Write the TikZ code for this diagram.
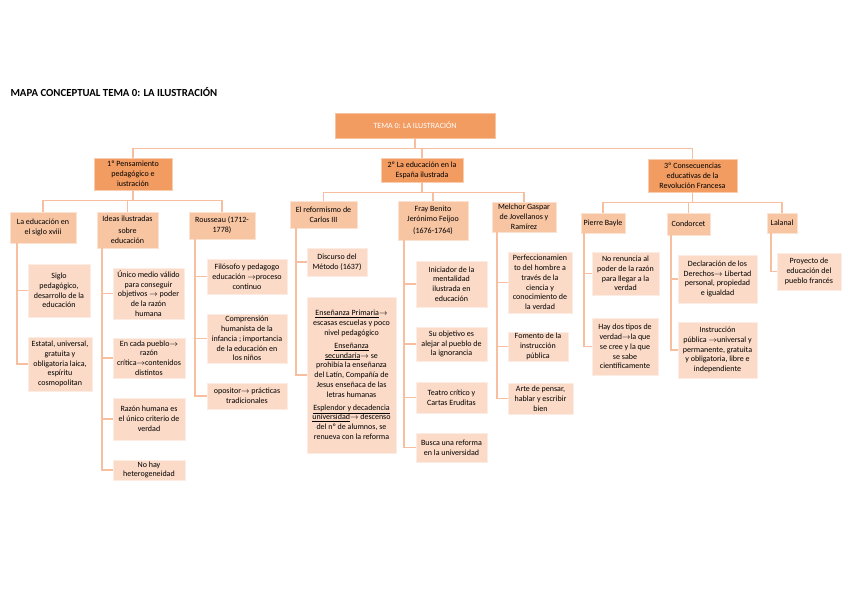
\documentclass[tikz,border=0pt]{standalone}
\usepackage{fontspec}
\setmainfont{Carlito}
\usepackage{tikz}
\usetikzlibrary{positioning,calc}

\definecolor{naranjaosc}{RGB}{242,156,98}
\definecolor{naranjamed}{RGB}{248,197,163}
\definecolor{naranjaclaro}{RGB}{251,218,199}
\definecolor{linea}{RGB}{247,190,160}
\newcommand{\flecha}{$\rightarrow$}

\begin{document}
\begin{tikzpicture}[
    x=1pt, y=-1pt,
    caja/.style={align=center, inner sep=0.5pt, font=\fontsize{8}{9.8}\selectfont},
    raiz/.style={caja, fill=naranjaosc, draw=naranjaosc!60!white, text=white},
    nivuno/.style={caja, fill=naranjaosc, draw=naranjaosc!50!white},
    nivdos/.style={caja, fill=naranjamed, draw=naranjamed!50!white},
    hoja/.style={caja, fill=naranjaclaro, draw=naranjaclaro!50!white},
    enlace/.style={draw=linea, line width=1.4pt}
  ]
    \path[fill=white, use as bounding box] (0,0) rectangle (848,599);

    \node[anchor=west, font=\fontsize{10.8}{12}\selectfont\bfseries] (titulo) at (7,92)
      {MAPA CONCEPTUAL TEMA 0: LA ILUSTRACIÓN};

    \node[raiz, minimum width=160, minimum height=25] (tema) at (415,125.5) {TEMA 0: LA ILUSTRACIÓN};

    \node[nivuno, minimum width=78, minimum height=32] (pens) at (133,174)
      {1º Pensamiento\\pedagógico e\\iustración};
    \node[nivuno, minimum width=82, minimum height=24] (espa) at (422,170)
      {2º La educación en la\\España ilustrada};
    \node[nivuno, minimum width=89, minimum height=33] (revo) at (692.5,175.5)
      {3º Consecuencias\\educativas de la\\Revolución Francesa};

    \node[nivdos, minimum width=66, minimum height=31] (siglo) at (43,227.5)
      {La educación en\\el siglo xviii};
    \node[nivdos, minimum width=61, minimum height=36] (ideas) at (127.5,230)
      {Ideas ilustradas\\[2pt]sobre\\educación};
    \node[nivdos, minimum width=66, minimum height=27] (rous) at (222,225.5)
      {Rousseau (1712-\\1778)};

    \node[nivdos, minimum width=67, minimum height=27] (carlos) at (323.5,214.5)
      {El reformismo de\\Carlos III};
    \node[nivdos, minimum width=70, minimum height=39] (feijoo) at (433,220.5)
      {Fray Benito\\Jerónimo Feijoo\\[2pt](1676-1764)};
    \node[nivdos, minimum width=64, minimum height=30] (jove) at (524,217)
      {Melchor Gaspar\\de Jovellanos y\\Ramírez};

    \node[nivdos, minimum width=44, minimum height=20] (bayle) at (603,223) {Pierre Bayle};
    \node[nivdos, minimum width=43, minimum height=22] (condo) at (688.5,224) {Condorcet};
    \node[nivdos, minimum width=30, minimum height=20] (lala) at (782,223) {Lalanal};

    \node[hoja, minimum width=62, minimum height=53] (sigpeda) at (59,290.5)
      {Siglo\\pedagógico,\\desarrollo de la\\educación};
    \node[hoja, minimum width=64, minimum height=54] (estatal) at (60,364)
      {Estatal, universal,\\gratuita y\\obligatoria laica,\\espíritu\\cosmopolitan};

    \node[hoja, minimum width=71, minimum height=51] (unico) at (148.5,293.5)
      {Único medio válido\\para conseguir\\objetivos \flecha{} poder\\de la razón\\humana};
    \node[hoja, minimum width=72, minimum height=40] (pueblo) at (149,358)
      {En cada pueblo\flecha\\razón\\crítica\flecha{}contenidos\\distintos};
    \node[hoja, minimum width=72, minimum height=42] (razon) at (149,419)
      {Razón humana es\\el único criterio de\\verdad};
    \node[hoja, minimum width=72, minimum height=20] (hetero) at (149,470)
      {No hay\\heterogeneidad};

    \node[hoja, minimum width=80, minimum height=35] (filo) at (247,276.5)
      {Filósofo y pedagogo\\educación \flecha{}proceso\\continuo};
    \node[hoja, minimum width=80, minimum height=49] (compr) at (247,338.5)
      {Comprensión\\humanista de la\\infancia ; importancia\\de la educación en\\los niños};
    \node[hoja, minimum width=80, minimum height=26] (oposi) at (247,396)
      {opositor\flecha{} prácticas\\tradicionales};

    \node[hoja, minimum width=60, minimum height=28] (discur) at (337,262)
      {Discurso del\\Método (1637)};
    \node[hoja, minimum width=89, minimum height=156] (ensen) at (351.5,375)
      {\underline{Enseñanza Primaria}\flecha\\escasas escuelas y poco\\nivel pedagógico\\[3pt]
       \underline{Enseñanza}\\\underline{secundaria}\flecha{} se\\prohibía la enseñanza\\del Latín, Compañía de\\Jesus enseñaca de las\\letras humanas\\[3pt]
       \underline{Esplendor y decadencia}\\\underline{universidad}\flecha{} descenso\\del nº de alumnos, se\\renueva con la reforma};

    \node[hoja, minimum width=71, minimum height=46] (inicia) at (451.5,284)
      {Iniciador de la\\mentalidad\\ilustrada en\\educación};
    \node[hoja, minimum width=71, minimum height=34] (objet) at (451.5,344)
      {Su objetivo es\\alejar al pueblo de\\la ignorancia};
    \node[hoja, minimum width=71, minimum height=31] (teatro) at (451.5,397.5)
      {Teatro crítico y\\Cartas Eruditas};
    \node[hoja, minimum width=71, minimum height=29] (busca) at (451.5,447.5)
      {Busca una reforma\\en la universidad};

    \node[hoja, minimum width=64, minimum height=61] (perfec) at (540,282.5)
      {Perfeccionamien\\to del hombre a\\través de la\\ciencia y\\conocimiento de\\la verdad};
    \node[hoja, minimum width=60, minimum height=29] (fomento) at (538,346.5)
      {Fomento de la\\instrucción\\pública};
    \node[hoja, minimum width=65, minimum height=31] (arte) at (540.5,398.5)
      {Arte de pensar,\\hablar y escribir\\bien};

    \node[hoja, minimum width=67, minimum height=43] (renun) at (625.5,273.5)
      {No renuncia al\\poder de la razón\\para llegar a la\\verdad};
    \node[hoja, minimum width=66, minimum height=57] (tipos) at (625,346.5)
      {Hay dos tipos de\\verdad\flecha{}la que\\se cree y la que\\se sabe\\científicamente};

    \node[hoja, minimum width=79, minimum height=48] (decla) at (717.5,279)
      {Declaración de los\\Derechos\flecha{} Libertad\\personal, propiedad\\e igualdad};
    \node[hoja, minimum width=79, minimum height=56] (instru) at (717.5,350)
      {Instrucción\\pública \flecha{}universal y\\permanente, gratuita\\y obligatoria, libre e\\independiente};

    \node[hoja, minimum width=64, minimum height=37] (proy) at (809,271.5)
      {Proyecto de\\educación del\\pueblo francés};

    \draw[enlace] (tema.south) -- ++(0,10) -| (pens.north);
    \draw[enlace] (tema.south) -- ++(0,10) -| (espa.north);
    \draw[enlace] (tema.south) -- ++(0,10) -| (revo.north);

    \draw[enlace] (pens.south) -- ++(0,10) -| (siglo.north);
    \draw[enlace] (pens.south) -- ++(0,10) -| (ideas.north);
    \draw[enlace] (pens.south) -- ++(0,10) -| (rous.north);

    \draw[enlace] (espa.south) -- ++(0,10) -| (carlos.north);
    \draw[enlace] (espa.south) -- ++(0,10) -| (feijoo.north);
    \draw[enlace] (espa.south) -- ++(0,10) -| (jove.north);

    \draw[enlace] (revo.south) -- ++(0,10) -| (bayle.north);
    \draw[enlace] (revo.south) -- ++(0,10) -| (condo.north);
    \draw[enlace] (revo.south) -- ++(0,10) -| (lala.north);

    \draw[enlace] ([xshift=7]siglo.south west) |- (sigpeda.west);
    \draw[enlace] ([xshift=7]siglo.south west) |- (estatal.west);
    \draw[enlace] ([xshift=5]ideas.south west) |- (unico.west);
    \draw[enlace] ([xshift=5]ideas.south west) |- (pueblo.west);
    \draw[enlace] ([xshift=5]ideas.south west) |- (razon.west);
    \draw[enlace] ([xshift=5]ideas.south west) |- (hetero.west);
    \draw[enlace] ([xshift=6]rous.south west) |- (filo.west);
    \draw[enlace] ([xshift=6]rous.south west) |- (compr.west);
    \draw[enlace] ([xshift=6]rous.south west) |- (oposi.west);

    \draw[enlace] ([xshift=6]carlos.south west) |- (discur.west);
    \draw[enlace] ([xshift=6]carlos.south west) |- (ensen.west);
    \draw[enlace] ([xshift=6]feijoo.south west) |- (inicia.west);
    \draw[enlace] ([xshift=6]feijoo.south west) |- (objet.west);
    \draw[enlace] ([xshift=6]feijoo.south west) |- (teatro.west);
    \draw[enlace] ([xshift=6]feijoo.south west) |- (busca.west);
    \draw[enlace] ([xshift=5]jove.south west) |- (perfec.west);
    \draw[enlace] ([xshift=5]jove.south west) |- (fomento.west);
    \draw[enlace] ([xshift=5]jove.south west) |- (arte.west);

    \draw[enlace] ([xshift=3]bayle.south west) |- (renun.west);
    \draw[enlace] ([xshift=3]bayle.south west) |- (tipos.west);
    \draw[enlace] ([xshift=4]condo.south west) |- (decla.west);
    \draw[enlace] ([xshift=4]condo.south west) |- (instru.west);
    \draw[enlace] ([xshift=4]lala.south west) |- (proy.west);
  \end{tikzpicture}
\end{document}
